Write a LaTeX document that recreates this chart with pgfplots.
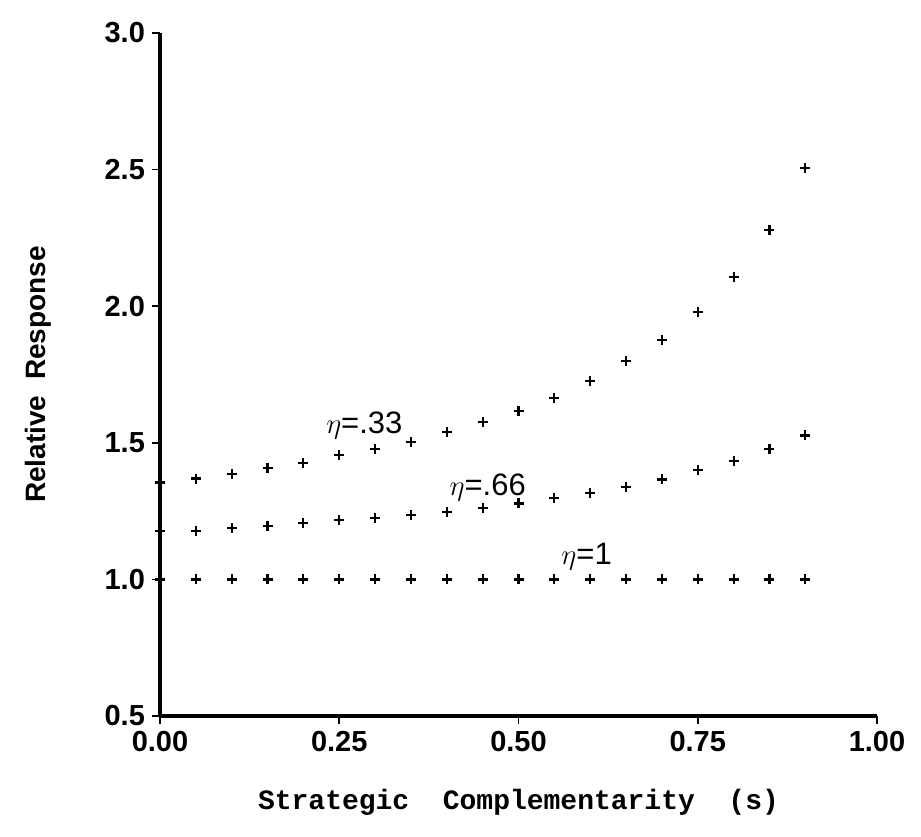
\documentclass[border=0pt]{standalone}
\usepackage{pgfplots}
\pgfplotsset{compat=1.18}
\usepackage{fontspec}
\setmainfont{Liberation Sans}
\setmonofont{Liberation Mono}
\begin{document}
\begin{tikzpicture}
\begin{axis}[at={(0,0)},anchor=origin,
 scale only axis, width=358.5pt, height=341.5pt,
 xmin=0,xmax=1,ymin=0.5,ymax=3.0,
 axis x line=bottom, axis y line=left, axis line style={line width=1.6pt,-},
 xtick={0,0.25,0.5,0.75,1}, ytick={0.5,1,1.5,2,2.5,3},
 xticklabel style={/pgf/number format/fixed,/pgf/number format/fixed zerofill,/pgf/number format/precision=2,font=\bfseries\fontsize{14.5}{16}\selectfont},
 yticklabel style={/pgf/number format/fixed,/pgf/number format/fixed zerofill,/pgf/number format/precision=1,font=\bfseries\fontsize{14.5}{16}\selectfont},
 /pgf/number format/assume math mode=true,
 tick style={black,line width=0.8pt}, major tick length=4pt, tick align=outside,
 xlabel={\ttfamily\bfseries Strategic\ \ Complementarity\ \ (s)}, xlabel style={font=\fontsize{14}{16}\selectfont,yshift=-12pt},
 ylabel={\bfseries Relative\ \ Response}, ylabel style={font=\fontsize{14}{16}\selectfont,yshift=20pt},
 clip=false]
\addplot[only marks,mark=+,mark size=2.5pt,mark options={line width=1.1pt}] coordinates {
(0,1.355)(0.05,1.369)(0.1,1.387)(0.15,1.408)(0.2,1.427)(0.25,1.454)(0.3,1.476)(0.35,1.502)(0.4,1.541)(0.45,1.577)(0.5,1.616)(0.55,1.665)(0.6,1.725)(0.65,1.798)(0.7,1.875)(0.75,1.978)(0.8,2.108)(0.85,2.280)(0.9,2.507)};
\addplot[only marks,mark=+,mark size=2.5pt,mark options={line width=1.1pt}] coordinates {
(0,1.176)(0.05,1.178)(0.1,1.188)(0.15,1.196)(0.2,1.205)(0.25,1.217)(0.3,1.226)(0.35,1.236)(0.4,1.248)(0.45,1.260)(0.5,1.278)(0.55,1.297)(0.6,1.317)(0.65,1.339)(0.7,1.366)(0.75,1.400)(0.8,1.433)(0.85,1.476)(0.9,1.527)};
\addplot[only marks,mark=+,mark size=2.5pt,mark options={line width=1.1pt}] coordinates {
(0,1)(0.05,1)(0.1,1)(0.15,1)(0.2,1)(0.25,1)(0.3,1)(0.35,1)(0.4,1)(0.45,1)(0.5,1)(0.55,1)(0.6,1)(0.65,1)(0.7,1)(0.75,1)(0.8,1)(0.85,1)(0.9,1)};
\node[font=\fontsize{15.5}{17}\selectfont] at (axis cs:0.285,1.565) {$\eta$=.33};
\node[font=\fontsize{15.5}{17}\selectfont] at (axis cs:0.457,1.335) {$\eta$=.66};
\node[font=\fontsize{15.5}{17}\selectfont] at (axis cs:0.595,1.085) {$\eta$=1};
\end{axis}
\path[use as bounding box] (-80pt,-60pt) rectangle (380.5pt,358pt);
\end{tikzpicture}
\end{document}
